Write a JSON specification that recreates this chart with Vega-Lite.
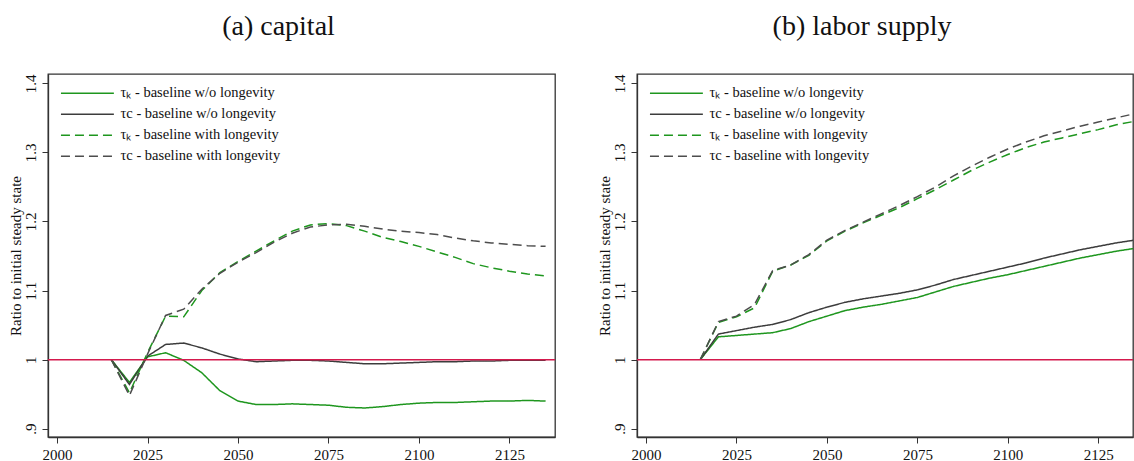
{
"$schema": "https://vega.github.io/schema/vega-lite/v6.json",
"padding": {"left": 7, "top": 12, "right": 0, "bottom": 0},
"background": "white",
"config": {
  "font": "Liberation Serif",
  "view": {"stroke": "#333333", "strokeWidth": 1.3},
  "axis": {"labelFont": "Liberation Serif", "labelFontSize": 15, "labelColor": "#111111", "titleFont": "Liberation Serif", "titleFontSize": 15, "titleFontWeight": "normal", "titleColor": "#111111", "domainColor": "#333333", "domainWidth": 1.3, "tickColor": "#333333", "tickWidth": 1, "tickSize": 6, "grid": false},
  "title": {"font": "Liberation Serif", "fontSize": 28, "fontWeight": "normal", "color": "#111111", "baseline": "alphabetic", "offset": 33, "dx": -23, "anchor": "middle"},
  "concat": {"spacing": 39}
},
"datasets": {
"capital": [
{"year":2015,"series":"τₖ - baseline w/o longevity","value":1.000},
{"year":2020,"series":"τₖ - baseline w/o longevity","value":0.967},
{"year":2025,"series":"τₖ - baseline w/o longevity","value":1.004},
{"year":2030,"series":"τₖ - baseline w/o longevity","value":1.010},
{"year":2035,"series":"τₖ - baseline w/o longevity","value":0.999},
{"year":2040,"series":"τₖ - baseline w/o longevity","value":0.981},
{"year":2045,"series":"τₖ - baseline w/o longevity","value":0.955},
{"year":2050,"series":"τₖ - baseline w/o longevity","value":0.940},
{"year":2055,"series":"τₖ - baseline w/o longevity","value":0.935},
{"year":2060,"series":"τₖ - baseline w/o longevity","value":0.935},
{"year":2065,"series":"τₖ - baseline w/o longevity","value":0.936},
{"year":2070,"series":"τₖ - baseline w/o longevity","value":0.935},
{"year":2075,"series":"τₖ - baseline w/o longevity","value":0.934},
{"year":2080,"series":"τₖ - baseline w/o longevity","value":0.931},
{"year":2085,"series":"τₖ - baseline w/o longevity","value":0.930},
{"year":2090,"series":"τₖ - baseline w/o longevity","value":0.932},
{"year":2095,"series":"τₖ - baseline w/o longevity","value":0.935},
{"year":2100,"series":"τₖ - baseline w/o longevity","value":0.937},
{"year":2105,"series":"τₖ - baseline w/o longevity","value":0.938},
{"year":2110,"series":"τₖ - baseline w/o longevity","value":0.938},
{"year":2115,"series":"τₖ - baseline w/o longevity","value":0.939},
{"year":2120,"series":"τₖ - baseline w/o longevity","value":0.940},
{"year":2125,"series":"τₖ - baseline w/o longevity","value":0.940},
{"year":2130,"series":"τₖ - baseline w/o longevity","value":0.941},
{"year":2135,"series":"τₖ - baseline w/o longevity","value":0.940},
{"year":2015,"series":"τc - baseline w/o longevity","value":1.000},
{"year":2020,"series":"τc - baseline w/o longevity","value":0.964},
{"year":2025,"series":"τc - baseline w/o longevity","value":1.005},
{"year":2030,"series":"τc - baseline w/o longevity","value":1.022},
{"year":2035,"series":"τc - baseline w/o longevity","value":1.024},
{"year":2040,"series":"τc - baseline w/o longevity","value":1.017},
{"year":2045,"series":"τc - baseline w/o longevity","value":1.008},
{"year":2050,"series":"τc - baseline w/o longevity","value":1.001},
{"year":2055,"series":"τc - baseline w/o longevity","value":0.997},
{"year":2060,"series":"τc - baseline w/o longevity","value":0.998},
{"year":2065,"series":"τc - baseline w/o longevity","value":0.999},
{"year":2070,"series":"τc - baseline w/o longevity","value":0.999},
{"year":2075,"series":"τc - baseline w/o longevity","value":0.998},
{"year":2080,"series":"τc - baseline w/o longevity","value":0.996},
{"year":2085,"series":"τc - baseline w/o longevity","value":0.994},
{"year":2090,"series":"τc - baseline w/o longevity","value":0.994},
{"year":2095,"series":"τc - baseline w/o longevity","value":0.995},
{"year":2100,"series":"τc - baseline w/o longevity","value":0.996},
{"year":2105,"series":"τc - baseline w/o longevity","value":0.997},
{"year":2110,"series":"τc - baseline w/o longevity","value":0.997},
{"year":2115,"series":"τc - baseline w/o longevity","value":0.998},
{"year":2120,"series":"τc - baseline w/o longevity","value":0.998},
{"year":2125,"series":"τc - baseline w/o longevity","value":0.999},
{"year":2130,"series":"τc - baseline w/o longevity","value":0.999},
{"year":2135,"series":"τc - baseline w/o longevity","value":0.999},
{"year":2015,"series":"τₖ - baseline with longevity","value":1.000},
{"year":2020,"series":"τₖ - baseline with longevity","value":0.952},
{"year":2025,"series":"τₖ - baseline with longevity","value":1.010},
{"year":2030,"series":"τₖ - baseline with longevity","value":1.063},
{"year":2035,"series":"τₖ - baseline with longevity","value":1.062},
{"year":2040,"series":"τₖ - baseline with longevity","value":1.100},
{"year":2045,"series":"τₖ - baseline with longevity","value":1.126},
{"year":2050,"series":"τₖ - baseline with longevity","value":1.142},
{"year":2055,"series":"τₖ - baseline with longevity","value":1.157},
{"year":2060,"series":"τₖ - baseline with longevity","value":1.172},
{"year":2065,"series":"τₖ - baseline with longevity","value":1.186},
{"year":2070,"series":"τₖ - baseline with longevity","value":1.195},
{"year":2075,"series":"τₖ - baseline with longevity","value":1.197},
{"year":2080,"series":"τₖ - baseline with longevity","value":1.194},
{"year":2085,"series":"τₖ - baseline with longevity","value":1.186},
{"year":2090,"series":"τₖ - baseline with longevity","value":1.177},
{"year":2095,"series":"τₖ - baseline with longevity","value":1.171},
{"year":2100,"series":"τₖ - baseline with longevity","value":1.164},
{"year":2105,"series":"τₖ - baseline with longevity","value":1.156},
{"year":2110,"series":"τₖ - baseline with longevity","value":1.148},
{"year":2115,"series":"τₖ - baseline with longevity","value":1.139},
{"year":2120,"series":"τₖ - baseline with longevity","value":1.133},
{"year":2125,"series":"τₖ - baseline with longevity","value":1.128},
{"year":2130,"series":"τₖ - baseline with longevity","value":1.124},
{"year":2135,"series":"τₖ - baseline with longevity","value":1.121},
{"year":2015,"series":"τc - baseline with longevity","value":1.000},
{"year":2020,"series":"τc - baseline with longevity","value":0.948},
{"year":2025,"series":"τc - baseline with longevity","value":1.008},
{"year":2030,"series":"τc - baseline with longevity","value":1.064},
{"year":2035,"series":"τc - baseline with longevity","value":1.073},
{"year":2040,"series":"τc - baseline with longevity","value":1.102},
{"year":2045,"series":"τc - baseline with longevity","value":1.125},
{"year":2050,"series":"τc - baseline with longevity","value":1.141},
{"year":2055,"series":"τc - baseline with longevity","value":1.155},
{"year":2060,"series":"τc - baseline with longevity","value":1.170},
{"year":2065,"series":"τc - baseline with longevity","value":1.183},
{"year":2070,"series":"τc - baseline with longevity","value":1.192},
{"year":2075,"series":"τc - baseline with longevity","value":1.195},
{"year":2080,"series":"τc - baseline with longevity","value":1.196},
{"year":2085,"series":"τc - baseline with longevity","value":1.193},
{"year":2090,"series":"τc - baseline with longevity","value":1.189},
{"year":2095,"series":"τc - baseline with longevity","value":1.186},
{"year":2100,"series":"τc - baseline with longevity","value":1.184},
{"year":2105,"series":"τc - baseline with longevity","value":1.181},
{"year":2110,"series":"τc - baseline with longevity","value":1.176},
{"year":2115,"series":"τc - baseline with longevity","value":1.172},
{"year":2120,"series":"τc - baseline with longevity","value":1.169},
{"year":2125,"series":"τc - baseline with longevity","value":1.167},
{"year":2130,"series":"τc - baseline with longevity","value":1.165},
{"year":2135,"series":"τc - baseline with longevity","value":1.164}
],
"labor": [
{"year":2015,"series":"τₖ - baseline w/o longevity","value":1.000},
{"year":2020,"series":"τₖ - baseline w/o longevity","value":1.033},
{"year":2025,"series":"τₖ - baseline w/o longevity","value":1.035},
{"year":2030,"series":"τₖ - baseline w/o longevity","value":1.037},
{"year":2035,"series":"τₖ - baseline w/o longevity","value":1.039},
{"year":2040,"series":"τₖ - baseline w/o longevity","value":1.045},
{"year":2045,"series":"τₖ - baseline w/o longevity","value":1.055},
{"year":2050,"series":"τₖ - baseline w/o longevity","value":1.063},
{"year":2055,"series":"τₖ - baseline w/o longevity","value":1.071},
{"year":2060,"series":"τₖ - baseline w/o longevity","value":1.076},
{"year":2065,"series":"τₖ - baseline w/o longevity","value":1.080},
{"year":2070,"series":"τₖ - baseline w/o longevity","value":1.085},
{"year":2075,"series":"τₖ - baseline w/o longevity","value":1.090},
{"year":2080,"series":"τₖ - baseline w/o longevity","value":1.098},
{"year":2085,"series":"τₖ - baseline w/o longevity","value":1.106},
{"year":2090,"series":"τₖ - baseline w/o longevity","value":1.112},
{"year":2095,"series":"τₖ - baseline w/o longevity","value":1.118},
{"year":2100,"series":"τₖ - baseline w/o longevity","value":1.123},
{"year":2105,"series":"τₖ - baseline w/o longevity","value":1.129},
{"year":2110,"series":"τₖ - baseline w/o longevity","value":1.135},
{"year":2115,"series":"τₖ - baseline w/o longevity","value":1.141},
{"year":2120,"series":"τₖ - baseline w/o longevity","value":1.147},
{"year":2125,"series":"τₖ - baseline w/o longevity","value":1.152},
{"year":2130,"series":"τₖ - baseline w/o longevity","value":1.157},
{"year":2135,"series":"τₖ - baseline w/o longevity","value":1.161},
{"year":2015,"series":"τc - baseline w/o longevity","value":1.000},
{"year":2020,"series":"τc - baseline w/o longevity","value":1.037},
{"year":2025,"series":"τc - baseline w/o longevity","value":1.042},
{"year":2030,"series":"τc - baseline w/o longevity","value":1.047},
{"year":2035,"series":"τc - baseline w/o longevity","value":1.051},
{"year":2040,"series":"τc - baseline w/o longevity","value":1.058},
{"year":2045,"series":"τc - baseline w/o longevity","value":1.068},
{"year":2050,"series":"τc - baseline w/o longevity","value":1.076},
{"year":2055,"series":"τc - baseline w/o longevity","value":1.083},
{"year":2060,"series":"τc - baseline w/o longevity","value":1.088},
{"year":2065,"series":"τc - baseline w/o longevity","value":1.092},
{"year":2070,"series":"τc - baseline w/o longevity","value":1.096},
{"year":2075,"series":"τc - baseline w/o longevity","value":1.101},
{"year":2080,"series":"τc - baseline w/o longevity","value":1.108},
{"year":2085,"series":"τc - baseline w/o longevity","value":1.116},
{"year":2090,"series":"τc - baseline w/o longevity","value":1.122},
{"year":2095,"series":"τc - baseline w/o longevity","value":1.128},
{"year":2100,"series":"τc - baseline w/o longevity","value":1.134},
{"year":2105,"series":"τc - baseline w/o longevity","value":1.140},
{"year":2110,"series":"τc - baseline w/o longevity","value":1.147},
{"year":2115,"series":"τc - baseline w/o longevity","value":1.153},
{"year":2120,"series":"τc - baseline w/o longevity","value":1.159},
{"year":2125,"series":"τc - baseline w/o longevity","value":1.164},
{"year":2130,"series":"τc - baseline w/o longevity","value":1.169},
{"year":2135,"series":"τc - baseline w/o longevity","value":1.173},
{"year":2015,"series":"τₖ - baseline with longevity","value":1.000},
{"year":2020,"series":"τₖ - baseline with longevity","value":1.054},
{"year":2025,"series":"τₖ - baseline with longevity","value":1.062},
{"year":2030,"series":"τₖ - baseline with longevity","value":1.075},
{"year":2035,"series":"τₖ - baseline with longevity","value":1.128},
{"year":2040,"series":"τₖ - baseline with longevity","value":1.137},
{"year":2045,"series":"τₖ - baseline with longevity","value":1.151},
{"year":2050,"series":"τₖ - baseline with longevity","value":1.172},
{"year":2055,"series":"τₖ - baseline with longevity","value":1.186},
{"year":2060,"series":"τₖ - baseline with longevity","value":1.198},
{"year":2065,"series":"τₖ - baseline with longevity","value":1.209},
{"year":2070,"series":"τₖ - baseline with longevity","value":1.220},
{"year":2075,"series":"τₖ - baseline with longevity","value":1.233},
{"year":2080,"series":"τₖ - baseline with longevity","value":1.246},
{"year":2085,"series":"τₖ - baseline with longevity","value":1.260},
{"year":2090,"series":"τₖ - baseline with longevity","value":1.274},
{"year":2095,"series":"τₖ - baseline with longevity","value":1.286},
{"year":2100,"series":"τₖ - baseline with longevity","value":1.297},
{"year":2105,"series":"τₖ - baseline with longevity","value":1.307},
{"year":2110,"series":"τₖ - baseline with longevity","value":1.315},
{"year":2115,"series":"τₖ - baseline with longevity","value":1.321},
{"year":2120,"series":"τₖ - baseline with longevity","value":1.327},
{"year":2125,"series":"τₖ - baseline with longevity","value":1.333},
{"year":2130,"series":"τₖ - baseline with longevity","value":1.340},
{"year":2135,"series":"τₖ - baseline with longevity","value":1.345},
{"year":2015,"series":"τc - baseline with longevity","value":1.000},
{"year":2020,"series":"τc - baseline with longevity","value":1.055},
{"year":2025,"series":"τc - baseline with longevity","value":1.063},
{"year":2030,"series":"τc - baseline with longevity","value":1.080},
{"year":2035,"series":"τc - baseline with longevity","value":1.129},
{"year":2040,"series":"τc - baseline with longevity","value":1.137},
{"year":2045,"series":"τc - baseline with longevity","value":1.152},
{"year":2050,"series":"τc - baseline with longevity","value":1.173},
{"year":2055,"series":"τc - baseline with longevity","value":1.187},
{"year":2060,"series":"τc - baseline with longevity","value":1.199},
{"year":2065,"series":"τc - baseline with longevity","value":1.211},
{"year":2070,"series":"τc - baseline with longevity","value":1.223},
{"year":2075,"series":"τc - baseline with longevity","value":1.236},
{"year":2080,"series":"τc - baseline with longevity","value":1.250},
{"year":2085,"series":"τc - baseline with longevity","value":1.266},
{"year":2090,"series":"τc - baseline with longevity","value":1.280},
{"year":2095,"series":"τc - baseline with longevity","value":1.293},
{"year":2100,"series":"τc - baseline with longevity","value":1.305},
{"year":2105,"series":"τc - baseline with longevity","value":1.315},
{"year":2110,"series":"τc - baseline with longevity","value":1.324},
{"year":2115,"series":"τc - baseline with longevity","value":1.331},
{"year":2120,"series":"τc - baseline with longevity","value":1.338},
{"year":2125,"series":"τc - baseline with longevity","value":1.344},
{"year":2130,"series":"τc - baseline with longevity","value":1.350},
{"year":2135,"series":"τc - baseline with longevity","value":1.356}
]
},
"hconcat": [
{
  "width": 507, "height": 363,
  "title": "(a) capital",
  "layer": [
    {
      "data": {"name": "capital"},
      "mark": {"type": "line", "strokeWidth": 1.5, "clip": true},
      "encoding": {
        "x": {"field": "year", "type": "quantitative", "scale": {"domain": [1997.5, 2137.6], "nice": false, "zero": false}, "axis": {"values": [2000, 2025, 2050, 2075, 2100, 2125], "format": "d", "title": null, "labelPadding": 4}},
        "y": {"field": "value", "type": "quantitative", "scale": {"domain": [0.888, 1.4135], "nice": false, "zero": false}, "axis": {"values": [0.9, 1, 1.1, 1.2, 1.3, 1.4], "labelExpr": "datum.value < 1 ? substring(format(datum.value, '.1f'), 1) : format(datum.value, '.1~f')", "labelAngle": -90, "labelAlign": "center", "labelBaseline": "alphabetic", "labelPadding": 7, "title": "Ratio to initial steady state", "titlePadding": 0}},
        "color": {"field": "series", "type": "nominal", "scale": {"domain": ["τₖ - baseline w/o longevity", "τc - baseline w/o longevity", "τₖ - baseline with longevity", "τc - baseline with longevity"], "range": ["#1e961e", "#3c3c3c", "#1e961e", "#4d4d4d"]}, "legend": {"title": null, "orient": "none", "legendX": 11, "legendY": 12, "symbolType": "M-1,0H9", "symbolSize": 112, "symbolStrokeWidth": 1.5, "labelOffset": 47, "rowPadding": 6, "padding": 0, "labelFontSize": 14.5, "labelFont": "Liberation Serif", "labelColor": "#111111", "labelLimit": 400}},
        "strokeDash": {"field": "series", "type": "nominal", "scale": {"domain": ["τₖ - baseline w/o longevity", "τc - baseline w/o longevity", "τₖ - baseline with longevity", "τc - baseline with longevity"], "range": [[1, 0], [1, 0], [9, 5], [9, 5]]}, "legend": {"title": null, "orient": "none", "legendX": 11, "legendY": 12, "symbolType": "M-1,0H9", "symbolSize": 112, "symbolStrokeWidth": 1.5, "labelOffset": 47, "rowPadding": 6, "padding": 0, "labelFontSize": 14.5, "labelFont": "Liberation Serif", "labelColor": "#111111", "labelLimit": 400}}
      }
    },
    {
      "data": {"values": [{"ref": 1}]},
      "mark": {"type": "rule", "color": "#d4194d", "strokeWidth": 1.5},
      "encoding": {"y": {"field": "ref", "type": "quantitative"}}
    }
  ]
},
{
  "width": 496, "height": 363,
  "title": "(b) labor supply",
  "layer": [
    {
      "data": {"name": "labor"},
      "mark": {"type": "line", "strokeWidth": 1.5, "clip": true},
      "encoding": {
        "x": {"field": "year", "type": "quantitative", "scale": {"domain": [1997.5, 2134.6], "nice": false, "zero": false}, "axis": {"values": [2000, 2025, 2050, 2075, 2100, 2125], "format": "d", "title": null, "labelPadding": 4}},
        "y": {"field": "value", "type": "quantitative", "scale": {"domain": [0.888, 1.4135], "nice": false, "zero": false}, "axis": {"values": [0.9, 1, 1.1, 1.2, 1.3, 1.4], "labelExpr": "datum.value < 1 ? substring(format(datum.value, '.1f'), 1) : format(datum.value, '.1~f')", "labelAngle": -90, "labelAlign": "center", "labelBaseline": "alphabetic", "labelPadding": 7, "title": "Ratio to initial steady state", "titlePadding": 0}},
        "color": {"field": "series", "type": "nominal", "scale": {"domain": ["τₖ - baseline w/o longevity", "τc - baseline w/o longevity", "τₖ - baseline with longevity", "τc - baseline with longevity"], "range": ["#1e961e", "#3c3c3c", "#1e961e", "#4d4d4d"]}, "legend": {"title": null, "orient": "none", "legendX": 11, "legendY": 12, "symbolType": "M-1,0H9", "symbolSize": 112, "symbolStrokeWidth": 1.5, "labelOffset": 47, "rowPadding": 6, "padding": 0, "labelFontSize": 14.5, "labelFont": "Liberation Serif", "labelColor": "#111111", "labelLimit": 400}},
        "strokeDash": {"field": "series", "type": "nominal", "scale": {"domain": ["τₖ - baseline w/o longevity", "τc - baseline w/o longevity", "τₖ - baseline with longevity", "τc - baseline with longevity"], "range": [[1, 0], [1, 0], [9, 5], [9, 5]]}, "legend": {"title": null, "orient": "none", "legendX": 11, "legendY": 12, "symbolType": "M-1,0H9", "symbolSize": 112, "symbolStrokeWidth": 1.5, "labelOffset": 47, "rowPadding": 6, "padding": 0, "labelFontSize": 14.5, "labelFont": "Liberation Serif", "labelColor": "#111111", "labelLimit": 400}}
      }
    },
    {
      "data": {"values": [{"ref": 1}]},
      "mark": {"type": "rule", "color": "#d4194d", "strokeWidth": 1.5},
      "encoding": {"y": {"field": "ref", "type": "quantitative"}}
    }
  ]
}
],
"resolve": {"scale": {"x": "independent", "y": "independent", "color": "independent", "strokeDash": "independent"}, "legend": {"color": "independent", "strokeDash": "independent"}}
}
